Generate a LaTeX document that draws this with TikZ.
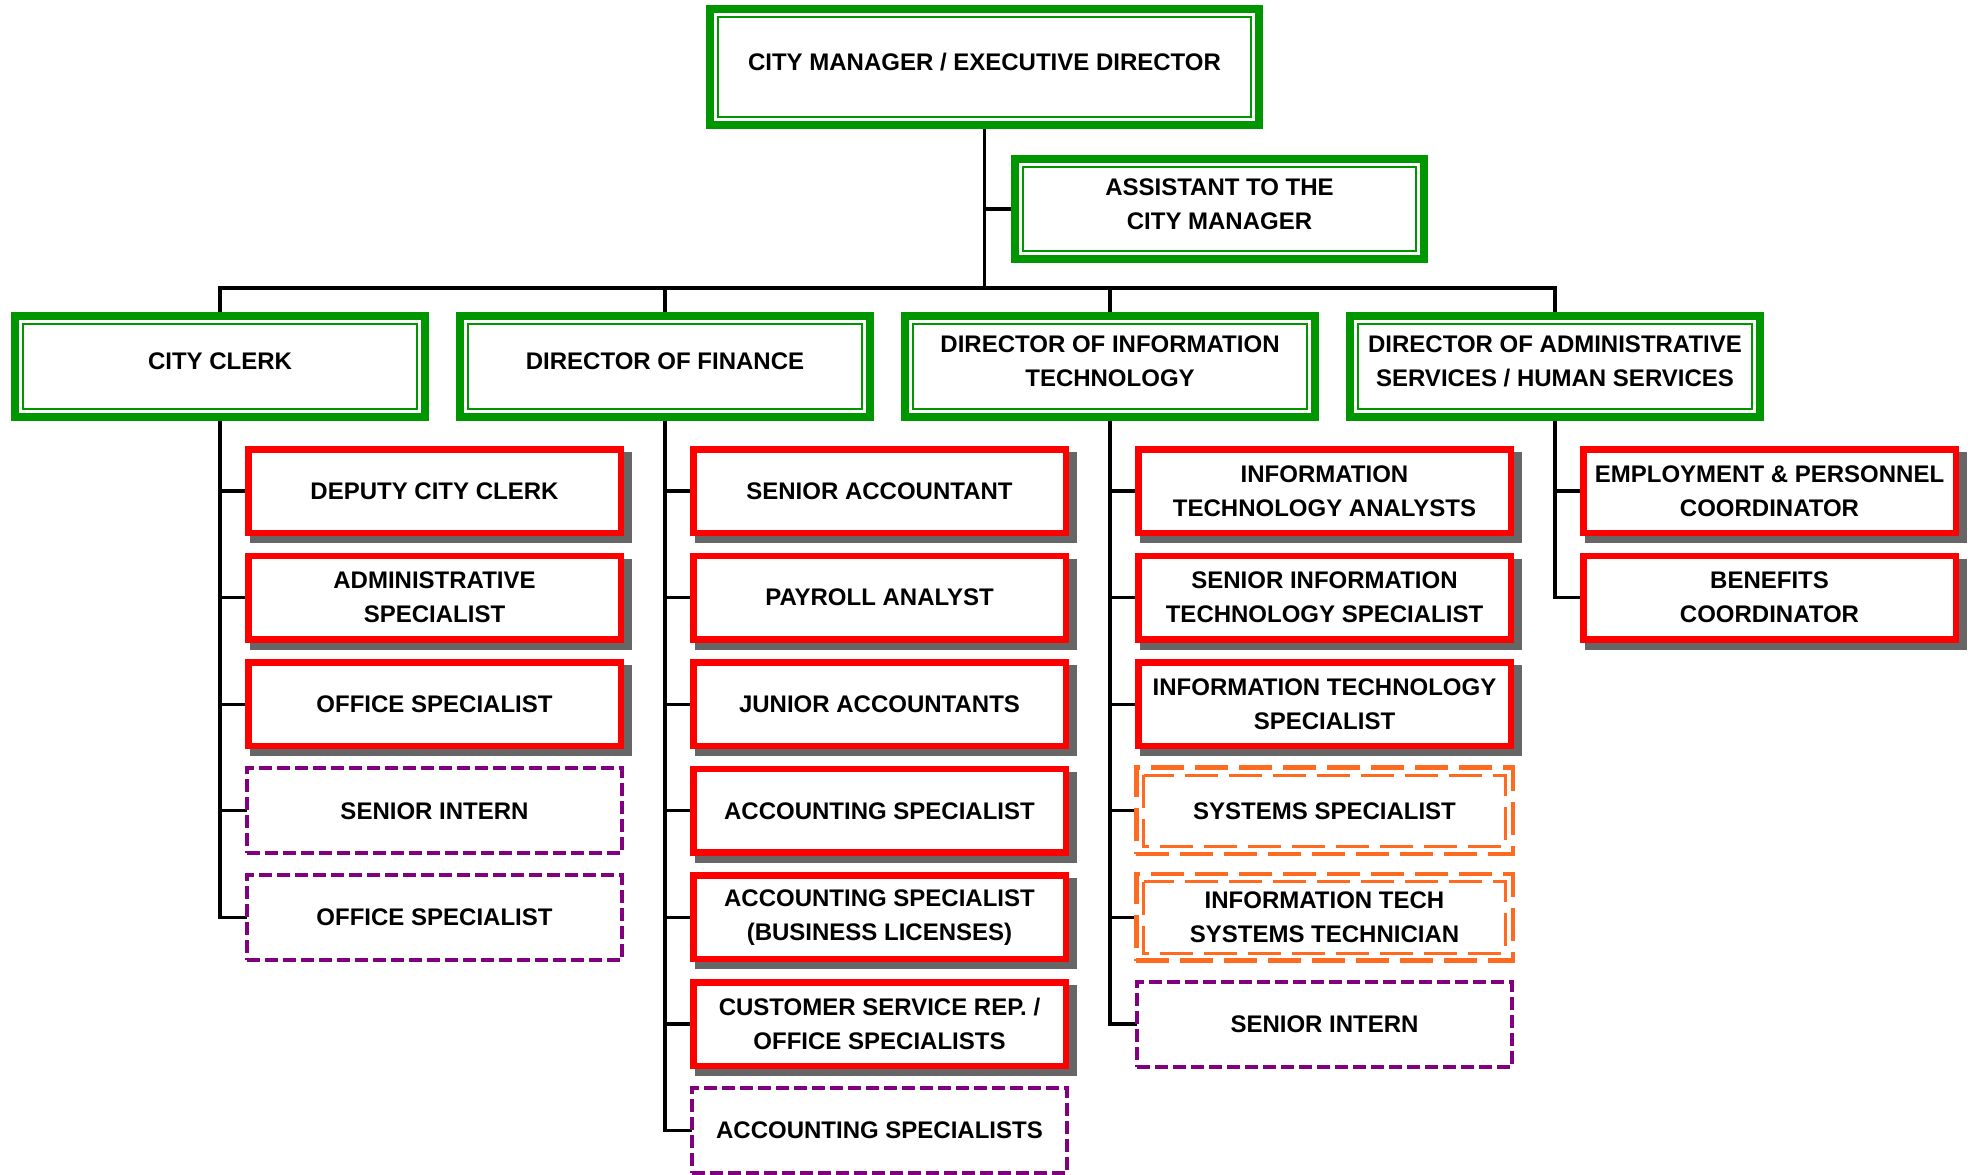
\documentclass[tikz,border=0pt]{standalone}
\usepackage{fontspec}
\setmainfont{Liberation Sans}
\usetikzlibrary{backgrounds}
\definecolor{dgreen}{RGB}{0,150,0}
\definecolor{bred}{RGB}{255,0,0}
\definecolor{shgray}{RGB}{102,102,102}
\definecolor{dpurple}{RGB}{128,0,128}
\definecolor{orng}{RGB}{255,106,33}
\begin{document}
\begin{tikzpicture}[x=1pt,y=-1pt,
 every node/.style={font=\bfseries\fontsize{24}{34}\selectfont, align=center, outer sep=0pt, inner sep=0pt},
 greenbox/.style={draw=dgreen, line width=8pt, fill=white},
 greeninner/.style={draw=dgreen, line width=2.3pt},
 redbox/.style={draw=bred, line width=6.5pt, fill=white, minimum width=372.5pt, minimum height=83.5pt},
 purplebox/.style={draw=dpurple, line width=4pt, dash pattern=on 13pt off 5pt, fill=white, minimum width=375pt, minimum height=85pt},
 orangebox/.style={draw=orng, line width=4.5pt, dash pattern=on 33pt off 11pt, fill=white, minimum width=376.5pt, minimum height=86.5pt},
 orangeinner/.style={draw=orng, line width=3pt, dash pattern=on 33pt off 11pt},
 shadowbox/.style={fill=shgray},
 conn/.style={draw=black, line width=3.3pt}]
\useasboundingbox (0,0) rectangle (1971,1175);

% top level
\node[greenbox, minimum width=549pt, minimum height=116pt,
  label={[yshift=5pt]center:{CITY MANAGER / EXECUTIVE DIRECTOR}}] (top) at (984.5,67) {};
\node[greenbox, minimum width=409pt, minimum height=100pt,
  label={[yshift=5pt]center:{ASSISTANT TO THE\\CITY MANAGER}}] (asst) at (1219.5,209) {};

% level 2
\node[greenbox, minimum width=410pt, minimum height=101pt,
  label={[yshift=5pt]center:{CITY CLERK}}] (clerk) at (220,366.5) {};
\node[greenbox, minimum width=410pt, minimum height=101pt,
  label={[yshift=5pt]center:{DIRECTOR OF FINANCE}}] (fin) at (665,366.5) {};
\node[greenbox, minimum width=410pt, minimum height=101pt,
  label={[yshift=5pt]center:{DIRECTOR OF INFORMATION\\TECHNOLOGY}}] (it) at (1110,366.5) {};
\node[greenbox, minimum width=410pt, minimum height=101pt,
  label={[yshift=5pt]center:{DIRECTOR OF ADMINISTRATIVE\\SERVICES / HUMAN SERVICES}}] (adm) at (1555,366.5) {};

% city clerk column
\node[redbox] (c1) at (434.5,491) {DEPUTY CITY CLERK};
\node[redbox] (c2) at (434.5,597.6) {ADMINISTRATIVE\\SPECIALIST};
\node[redbox] (c3) at (434.5,704.2) {OFFICE SPECIALIST};
\node[purplebox] (c4) at (434.5,810.8) {SENIOR INTERN};
\node[purplebox] (c5) at (434.5,917.4) {OFFICE SPECIALIST};

% finance column
\node[redbox] (f1) at (879.5,491) {SENIOR ACCOUNTANT};
\node[redbox] (f2) at (879.5,597.6) {PAYROLL ANALYST};
\node[redbox] (f3) at (879.5,704.2) {JUNIOR ACCOUNTANTS};
\node[redbox] (f4) at (879.5,810.8) {ACCOUNTING SPECIALIST};
\node[redbox] (f5) at (879.5,917.4) {ACCOUNTING SPECIALIST\\(BUSINESS LICENSES)};
\node[redbox] (f6) at (879.5,1024) {CUSTOMER SERVICE REP. /\\OFFICE SPECIALISTS};
\node[purplebox] (f7) at (879.5,1130.6) {ACCOUNTING SPECIALISTS};

% IT column
\node[redbox] (i1) at (1324.5,491) {INFORMATION\\TECHNOLOGY ANALYSTS};
\node[redbox] (i2) at (1324.5,597.6) {SENIOR INFORMATION\\TECHNOLOGY SPECIALIST};
\node[redbox] (i3) at (1324.5,704.2) {INFORMATION TECHNOLOGY\\SPECIALIST};
\node[orangebox] (i4) at (1324.5,810.8) {SYSTEMS SPECIALIST};
\node[orangebox] (i5) at (1324.5,917.4) {INFORMATION TECH\\SYSTEMS TECHNICIAN};
\node[purplebox] (i6) at (1324.5,1024) {SENIOR INTERN};

% admin column
\node[redbox] (a1) at (1769.5,491) {EMPLOYMENT \& PERSONNEL\\COORDINATOR};
\node[redbox] (a2) at (1769.5,597.6) {BENEFITS\\COORDINATOR};

% inner lines
\foreach \n in {top,asst,clerk,fin,it,adm}
  \draw[greeninner] ([shift={(8pt,-8pt)}]\n.north west) rectangle ([shift={(-8pt,8pt)}]\n.south east);
\foreach \n in {i4,i5}
  \draw[orangeinner] ([shift={(7.5pt,-7.5pt)}]\n.north west) rectangle ([shift={(-7.5pt,7.5pt)}]\n.south east);

\begin{scope}[on background layer]
  \foreach \n in {c1,c2,c3,f1,f2,f3,f4,f5,f6,i1,i2,i3,a1,a2}
    \fill[shadowbox] ([shift={(1.75pt,-2.75pt)}]\n.north west) rectangle ([shift={(11.25pt,-10.25pt)}]\n.south east);
  \coordinate (bus) at (984.5,288);
  \draw[conn] (top.south) -- (bus);
  \draw[conn] (asst.west) -- (asst.west -| top.south);
  \draw[conn] (clerk.north) -- (clerk.north |- bus) -- (adm.north |- bus) -- (adm.north);
  \draw[conn] (fin.north) -- (fin.north |- bus);
  \draw[conn] (it.north) -- (it.north |- bus);
  \foreach \c in {c1,c2,c3,c4,c5} \draw[conn] (clerk.south) |- (\c.west);
  \foreach \c in {f1,f2,f3,f4,f5,f6,f7} \draw[conn] (fin.south) |- (\c.west);
  \foreach \c in {i1,i2,i3,i4,i5,i6} \draw[conn] (it.south) |- (\c.west);
  \foreach \c in {a1,a2} \draw[conn] (adm.south) |- (\c.west);
\end{scope}
\end{tikzpicture}
\end{document}
